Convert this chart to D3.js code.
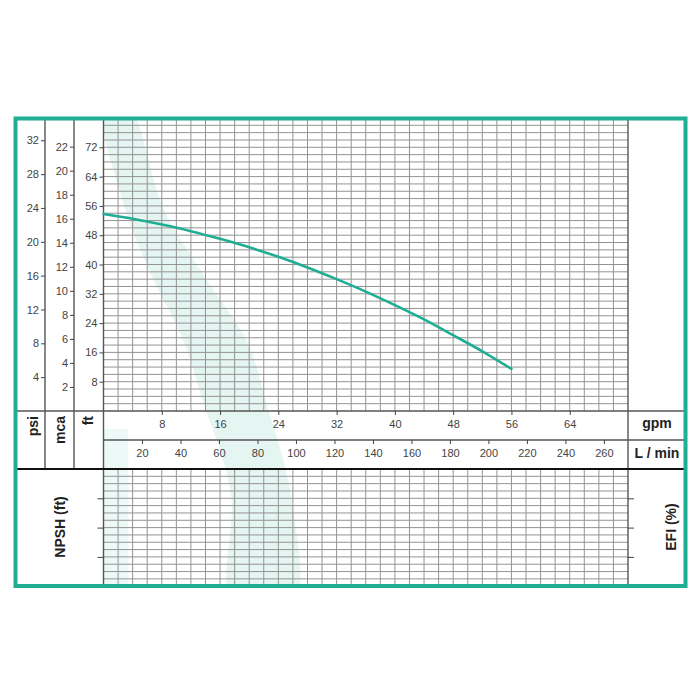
<!DOCTYPE html>
<html>
<head>
<meta charset="utf-8">
<script src="https://cdn.jsdelivr.net/npm/d3@7"></script>
<style>
  body { margin: 0; background: #fff; }
  svg { display: block; }
  .tick text { fill: #444; }
</style>
</head>
<body>
<script>
const width = 700;
const height = 700;

// axis ticks
const gpmTicks = [8, 16, 24, 32, 40, 48, 56, 64];
const lpmTicks = [20, 40, 60, 80, 100, 120, 140, 160, 180, 200, 220, 240, 260];
const ftTicks = [8, 16, 24, 32, 40, 48, 56, 64, 72];
const mcaTicks = [2, 4, 6, 8, 10, 12, 14, 16, 18, 20, 22];
const psiTicks = [4, 8, 12, 16, 20, 24, 28, 32];
const npshTicks = [8, 16, 24];

// pump curve, flow in gpm, head in ft
const flow = [0, 4, 8, 12, 16, 20, 24, 28, 32, 36, 40, 44, 48, 52, 56];
const head = [53.8, 52.5, 50.9, 49.1, 47.0, 44.7, 42.1, 39.2, 36.0, 32.6, 28.9, 25.0, 20.7, 16.3, 11.5];

// watermark band (gpm, ft), ft below 0 runs down into the lower panel
const bandLeft = [[0, 84], [3.0, 55], [6.7, 36.6], [11.1, 18.6], [13.9, 1.1], [16.2, -12], [17.6, -24.3], [17.7, -52]];
const bandRight = [[3.2, 84], [8.3, 55], [13.9, 36.6], [19.8, 18.6], [22.5, 1.1], [24.5, -12], [25.8, -24.3], [26.2, -52]];
const stripBand = [[0, -5], [3.4, -5], [3.4, -52], [0, -52]];

const maxGpm = 72;
const maxFt = 80;

const teal = '#1fae93';
const gridColor = '#939393';
const lineDark = '#555';

const x = d3.scaleLinear().domain([0, maxGpm]).range([103.5, 628]);
const xl = d3.scaleLinear().domain([0, maxGpm * 3.785]).range(x.range());
const y = d3.scaleLinear().domain([0, maxFt]).range([411, 118]);
const yPsi = d3.scaleLinear().domain([0, maxFt / 2.31]).range(y.range());
const yMca = d3.scaleLinear().domain([0, maxFt / 3.281]).range(y.range());
// lower panel (npsh), counted downward from its top edge
const yLow = d3.scaleLinear().domain([0, 31.4]).range([469, 584]);

const svg = d3.select('body')
  .append('svg')
  .attr('width', width)
  .attr('height', height)
  .style('font-family', '"Liberation Sans", Arial, sans-serif');

svg.append('clipPath')
  .attr('id', 'plot-clip')
  .append('rect')
  .attr('x', x(0)).attr('y', 118)
  .attr('width', x(maxGpm) - x(0)).attr('height', 468);

// watermark
const mark = svg.append('g').attr('clip-path', 'url(#plot-clip)');
const bandPts = bandLeft.concat(bandRight.slice().reverse());
mark.append('path')
  .attr('d', d3.line().curve(d3.curveCatmullRomClosed)(bandPts.map(d => [x(d[0]), y(d[1])])))
  .attr('fill', teal)
  .attr('opacity', 0.12);
mark.append('path')
  .attr('d', d3.line()(stripBand.map(d => [x(d[0]), y(d[1])])) + 'Z')
  .attr('fill', teal)
  .attr('opacity', 0.08);

// grid, upper panel
const grid = svg.append('g')
  .attr('stroke', gridColor)
  .attr('stroke-width', 1);

grid.selectAll('.vu')
  .data(d3.range(2, maxGpm, 2))
  .join('line')
    .attr('class', 'vu')
    .attr('x1', d => x(d)).attr('x2', d => x(d))
    .attr('y1', y(maxFt)).attr('y2', y(0));

grid.selectAll('.hu')
  .data(d3.range(2, maxFt, 2))
  .join('line')
    .attr('class', 'hu')
    .attr('x1', x(0)).attr('x2', x(maxGpm))
    .attr('y1', d => y(d)).attr('y2', d => y(d));

// grid, lower panel
grid.selectAll('.vl')
  .data(d3.range(2, maxGpm, 2))
  .join('line')
    .attr('class', 'vl')
    .attr('x1', d => x(d)).attr('x2', d => x(d))
    .attr('y1', yLow(0)).attr('y2', yLow(31.4));

grid.selectAll('.hl')
  .data(d3.range(2, 31, 2))
  .join('line')
    .attr('class', 'hl')
    .attr('x1', x(0)).attr('x2', x(maxGpm))
    .attr('y1', d => yLow(d)).attr('y2', d => yLow(d));

// frame lines
const frame = svg.append('g').attr('stroke', lineDark).attr('stroke-width', 1.4);
[45, 74, 103.5].forEach(px => {
  frame.append('line').attr('x1', px).attr('x2', px).attr('y1', 118).attr('y2', 469);
});
frame.append('line').attr('x1', x(0)).attr('x2', x(0)).attr('y1', 469).attr('y2', 586);
frame.append('line').attr('x1', x(maxGpm)).attr('x2', x(maxGpm)).attr('y1', 118).attr('y2', 586);
frame.append('line').attr('x1', 15).attr('x2', 686).attr('y1', y(0)).attr('y2', y(0));
frame.append('line').attr('x1', x(0)).attr('x2', 686).attr('y1', 440).attr('y2', 440);
svg.append('line')
  .attr('x1', 15).attr('x2', 686).attr('y1', 469).attr('y2', 469)
  .attr('stroke', '#111').attr('stroke-width', 2);

// axes
function styleAxis(g) {
  g.select('.domain').remove();
  g.selectAll('.tick line').attr('stroke', '#444');
  g.selectAll('.tick text').attr('font-size', 11);
}

svg.append('g')
  .attr('transform', 'translate(45,0)')
  .call(d3.axisLeft(yPsi).tickValues(psiTicks).tickSize(4).tickPadding(2))
  .call(styleAxis);
svg.append('g')
  .attr('transform', 'translate(74,0)')
  .call(d3.axisLeft(yMca).tickValues(mcaTicks).tickSize(4).tickPadding(2))
  .call(styleAxis);
svg.append('g')
  .attr('transform', `translate(${x(0)},0)`)
  .call(d3.axisLeft(y).tickValues(ftTicks).tickSize(4).tickPadding(2))
  .call(styleAxis);

svg.append('g')
  .attr('transform', `translate(0,${y(0)})`)
  .call(d3.axisBottom(x).tickValues(gpmTicks).tickSize(4).tickPadding(5))
  .call(styleAxis);
svg.append('g')
  .attr('transform', 'translate(0,440)')
  .call(d3.axisBottom(xl).tickValues(lpmTicks).tickSize(4).tickPadding(5))
  .call(styleAxis);

svg.append('g')
  .attr('transform', `translate(${x(0)},0)`)
  .call(d3.axisLeft(yLow).tickValues(npshTicks).tickSize(6).tickFormat(''))
  .call(styleAxis);
svg.append('g')
  .attr('transform', `translate(${x(maxGpm)},0)`)
  .call(d3.axisRight(yLow).tickValues(npshTicks).tickSize(6).tickFormat(''))
  .call(styleAxis);

// unit labels
const labels = svg.append('g')
  .attr('font-weight', 'bold')
  .attr('fill', '#222')
  .attr('text-anchor', 'middle');

[['psi', 33], ['mca', 60], ['ft', 88]].forEach(([t, px]) => {
  labels.append('text')
    .attr('transform', `translate(${px},416) rotate(-90)`)
    .attr('text-anchor', 'end')
    .attr('dy', '0.35em')
    .attr('font-size', 14)
    .text(t);
});
labels.append('text').attr('x', 657).attr('y', 423).attr('dy', '0.35em').attr('font-size', 14).text('gpm');
labels.append('text').attr('x', 657).attr('y', 453).attr('dy', '0.35em').attr('font-size', 14).text('L / min');
labels.append('text')
  .attr('transform', 'translate(60,527) rotate(-90)')
  .attr('dy', '0.35em').attr('font-size', 14)
  .text('NPSH (ft)');
labels.append('text')
  .attr('transform', 'translate(671,527) rotate(-90)')
  .attr('dy', '0.35em').attr('font-size', 14)
  .text('EFI (%)');

// pump curve
svg.append('path')
  .datum(flow.map((f, i) => [f, head[i]]))
  .attr('fill', 'none')
  .attr('stroke', teal)
  .attr('stroke-width', 2.6)
  .attr('stroke-linecap', 'round')
  .attr('d', d3.line().x(d => x(d[0])).y(d => y(d[1])).curve(d3.curveNatural));

// outer border
svg.append('rect')
  .attr('x', 15.5).attr('y', 118.5)
  .attr('width', 670).attr('height', 467.5)
  .attr('fill', 'none')
  .attr('stroke', teal)
  .attr('stroke-width', 4);
</script>
</body>
</html>
